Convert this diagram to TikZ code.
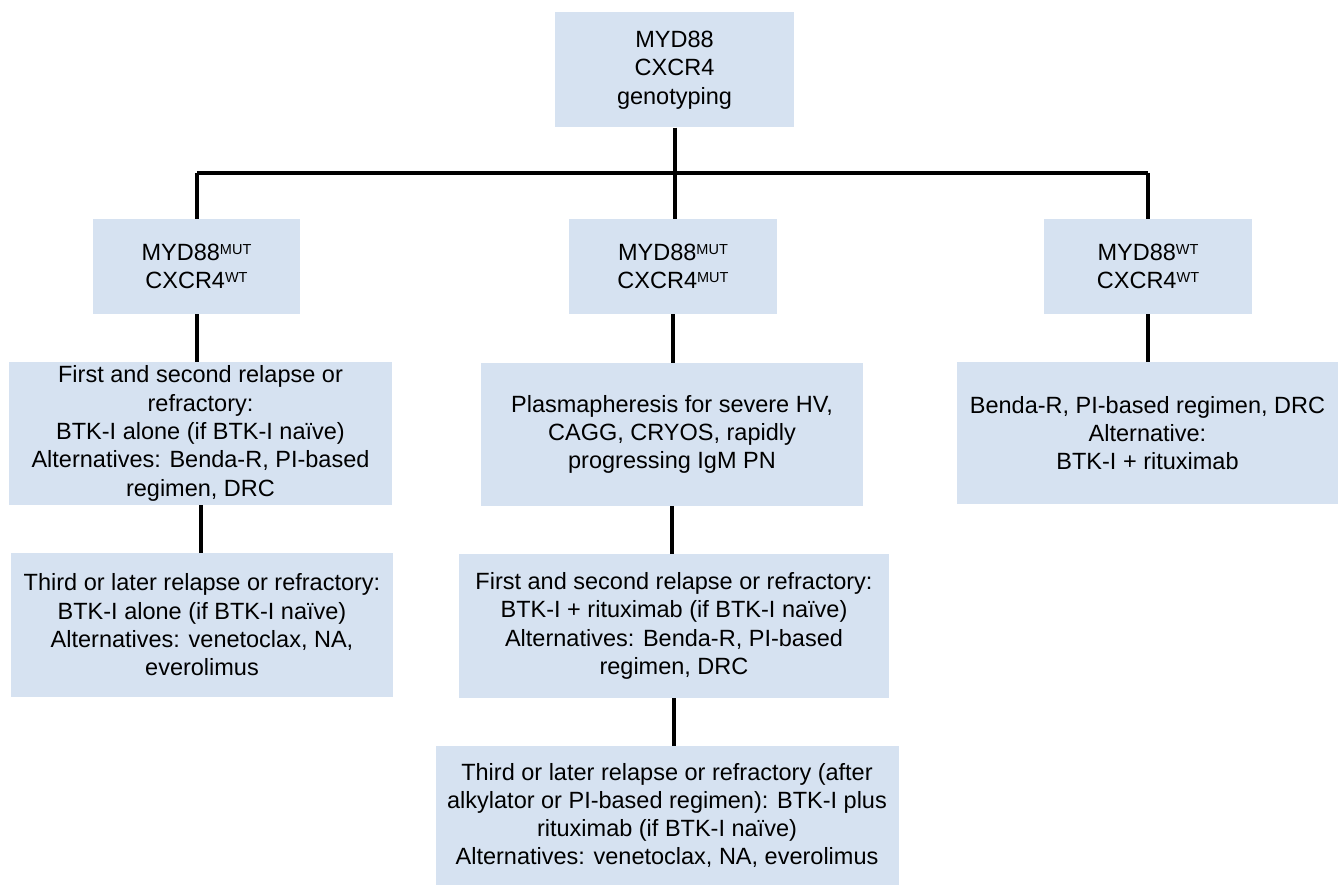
\documentclass[tikz,border=0pt]{standalone}
\usepackage{fontspec}
\setmainfont{Liberation Sans}
\definecolor{boxblue}{RGB}{214,226,241}
\newcommand{\supr}[1]{\raisebox{6.3pt}{\fontsize{14.5}{14.5}\selectfont #1}}
\begin{document}
\begin{tikzpicture}[x=1pt,y={(0pt,-1pt)},
  box/.style={rectangle, fill=boxblue, draw=none, inner sep=0pt, align=center,
    font=\fontsize{23.5}{28.3}\selectfont},
  link/.style={draw=black, line width=4pt}]
\useasboundingbox (0,0) rectangle (1338,885);
\node[box, minimum width=239pt, minimum height=115pt] (top) at (674.5,70) {MYD88\\CXCR4\\genotyping};
\node[box, minimum width=207pt, minimum height=95pt] (L1) at (196.5,266.5) {MYD88\supr{MUT}\\CXCR4\supr{WT}};
\node[box, minimum width=208pt, minimum height=95pt] (M1) at (673,266.5) {MYD88\supr{MUT}\\CXCR4\supr{MUT}};
\node[box, minimum width=208pt, minimum height=95pt] (R1) at (1148,266.5) {MYD88\supr{WT}\\CXCR4\supr{WT}};
\node[box, minimum width=383pt, minimum height=143pt] (L2) at (200.5,433.5) {First and second relapse or\\refractory:\\BTK-I alone (if BTK-I naïve)\\Alternatives: Benda-R, PI-based\\regimen, DRC};
\node[box, minimum width=382pt, minimum height=143pt] (M2) at (672,434.5) {Plasmapheresis for severe HV,\\CAGG, CRYOS, rapidly\\progressing IgM PN};
\node[box, minimum width=381pt, minimum height=142pt] (R2) at (1147.5,433) {Benda-R, PI-based regimen, DRC\\Alternative:\\BTK-I + rituximab};
\node[box, minimum width=382pt, minimum height=144pt] (L3) at (202,625) {Third or later relapse or refractory:\\BTK-I alone (if BTK-I naïve)\\Alternatives: venetoclax, NA,\\everolimus};
\node[box, minimum width=430pt, minimum height=144pt] (M3) at (674,626) {First and second relapse or refractory:\\BTK-I + rituximab (if BTK-I naïve)\\Alternatives: Benda-R, PI-based\\regimen, DRC};
\node[box, minimum width=463pt, minimum height=139pt] (M4) at (667,815.5) {Third or later relapse or refractory (after\\alkylator or PI-based regimen): BTK-I plus\\rituximab (if BTK-I naïve)\\Alternatives: venetoclax, NA, everolimus};
\coordinate (hL) at (197,173);
\coordinate (hR) at (1148,173);
\draw[link] (top.south) -- (top.south |- M1.north);
\draw[link] (hL) -- (hR);
\draw[link] (hL) -- (hL |- L1.north);
\draw[link] (hR) -- (hR |- R1.north);
\draw[link] (L1.south) -- (L1.south |- L2.north);
\draw[link] (L2.south) -- (L2.south |- L3.north);
\draw[link] (M1.south) -- (M1.south |- M2.north);
\draw[link] (M2.south) -- (M2.south |- M3.north);
\draw[link] (M3.south) -- (M3.south |- M4.north);
\draw[link] (R1.south) -- (R1.south |- R2.north);
\end{tikzpicture}
\end{document}
